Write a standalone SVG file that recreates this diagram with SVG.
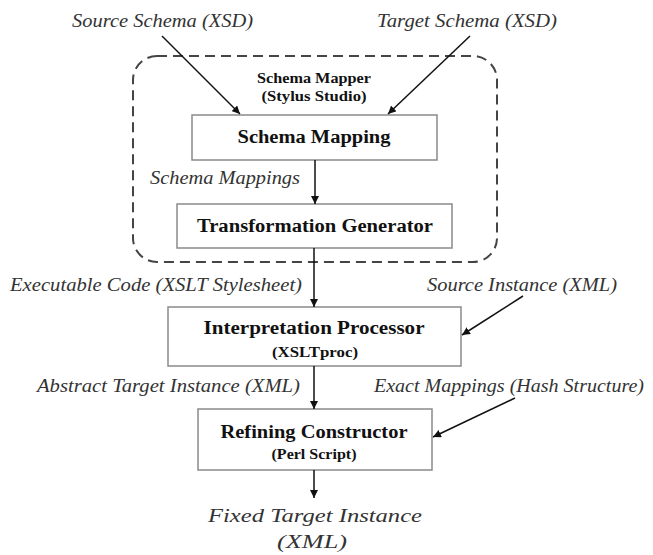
<svg xmlns="http://www.w3.org/2000/svg" width="653" height="555" viewBox="0 0 653 555">
<style>
.box{fill:#fff;stroke:#8a8a8a;stroke-width:1.5}
.lbl{font-family:"Liberation Serif",serif;font-weight:bold;fill:#111;text-anchor:middle}
.it{font-family:"Liberation Serif",serif;font-style:italic;fill:#333;font-size:19px}
.edge{stroke:#111;stroke-width:1.5;fill:none;marker-end:url(#ah)}
</style>
<defs>
<marker id="ah" viewBox="0 0 10 10" refX="10" refY="5" markerWidth="8" markerHeight="8" markerUnits="userSpaceOnUse" orient="auto">
<path d="M0,0 L10,5 L0,10 z" fill="#111"/>
</marker>
</defs>
<rect width="653" height="555" fill="#fff"/>
<g id="mapper">
<rect x="133" y="56" width="364" height="206" rx="24" fill="none" stroke="#444" stroke-width="2" stroke-dasharray="10 6"/>
<text class="lbl" x="314" y="83" font-size="14" textLength="114" lengthAdjust="spacingAndGlyphs">Schema Mapper</text>
<text class="lbl" x="314" y="101" font-size="14" textLength="105" lengthAdjust="spacingAndGlyphs">(Stylus Studio)</text>
</g>
<g id="schema-mapping">
<rect class="box" x="192" y="115" width="245" height="45"/>
<text class="lbl" x="314" y="143" font-size="18" textLength="153" lengthAdjust="spacingAndGlyphs">Schema Mapping</text>
</g>
<g id="transformation-generator">
<rect class="box" x="177" y="204" width="275" height="44"/>
<text class="lbl" x="315" y="232" font-size="18" textLength="236" lengthAdjust="spacingAndGlyphs">Transformation Generator</text>
</g>
<g id="interpretation-processor">
<rect class="box" x="168" y="307" width="293" height="59"/>
<text class="lbl" x="314" y="334" font-size="18" textLength="221" lengthAdjust="spacingAndGlyphs">Interpretation  Processor</text>
<text class="lbl" x="315" y="357" font-size="14" textLength="86" lengthAdjust="spacingAndGlyphs">(XSLTproc)</text>
</g>
<g id="refining-constructor">
<rect class="box" x="198" y="409" width="234" height="61"/>
<text class="lbl" x="314" y="438" font-size="18" textLength="187" lengthAdjust="spacingAndGlyphs">Refining Constructor</text>
<text class="lbl" x="314" y="459" font-size="14" textLength="85" lengthAdjust="spacingAndGlyphs">(Perl Script)</text>
</g>
<g id="labels">
<text class="it" x="72" y="27" textLength="181" lengthAdjust="spacingAndGlyphs">Source Schema (XSD)</text>
<text class="it" x="377" y="27" textLength="180" lengthAdjust="spacingAndGlyphs">Target Schema (XSD)</text>
<text class="it" x="150" y="184" textLength="150" lengthAdjust="spacingAndGlyphs">Schema Mappings</text>
<text class="it" x="10" y="291" textLength="292" lengthAdjust="spacingAndGlyphs">Executable Code (XSLT Stylesheet)</text>
<text class="it" x="427" y="291" textLength="190" lengthAdjust="spacingAndGlyphs">Source Instance (XML)</text>
<text class="it" x="37" y="392" textLength="263" lengthAdjust="spacingAndGlyphs">Abstract Target Instance (XML)</text>
<text class="it" x="374" y="392" textLength="270" lengthAdjust="spacingAndGlyphs">Exact Mappings (Hash Structure)</text>
<text class="it" x="208" y="522" font-size="26" textLength="214" lengthAdjust="spacingAndGlyphs">Fixed Target Instance</text>
<text class="it" x="277" y="548" font-size="26" textLength="70" lengthAdjust="spacingAndGlyphs">(XML)</text>
</g>
<g id="connectors">
<line class="edge" x1="162" y1="36" x2="240" y2="114"/>
<line class="edge" x1="470" y1="36" x2="388" y2="114"/>
<line class="edge" x1="315" y1="160" x2="315" y2="204"/>
<line class="edge" x1="314" y1="248" x2="314" y2="307"/>
<line class="edge" x1="523" y1="296" x2="462" y2="335"/>
<line class="edge" x1="314" y1="366" x2="314" y2="409"/>
<line class="edge" x1="515" y1="398" x2="433" y2="437"/>
<line class="edge" x1="314" y1="470" x2="314" y2="498"/>
</g>
</svg>
